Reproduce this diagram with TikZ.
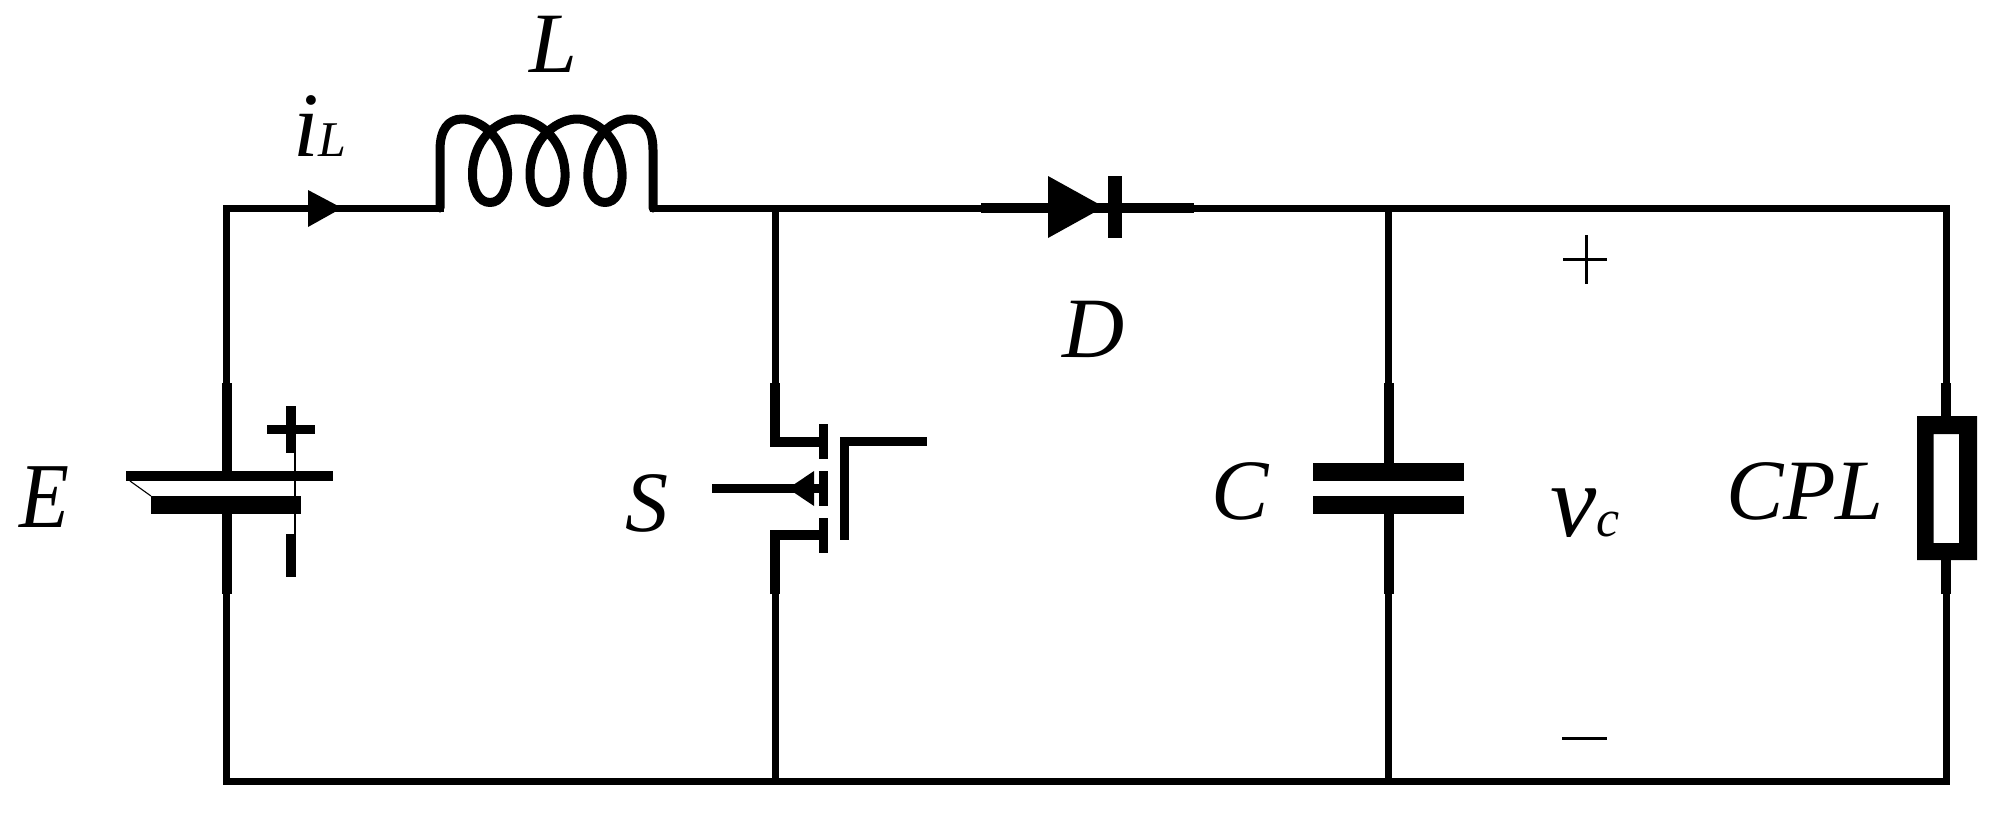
\documentclass[tikz,border=0pt]{standalone}
\usepackage{fontspec}
\setmainfont{Liberation Serif}
\newcommand{\lblfont}{\fontsize{86}{90}\selectfont\itshape}
\begin{document}
\begin{tikzpicture}[x=1pt,y=-1pt,
  wire/.style={line width=7pt,line cap=rect,line join=miter},
  lead/.style={line width=10pt,line cap=butt},
  coil/.style={line width=9pt,line join=round,line cap=round},
  hair/.style={line width=1.1pt},
  thinsign/.style={line width=3pt},
  lbl/.style={inner sep=0pt,outer sep=0pt,anchor=base west,font=\lblfont}]
\useasboundingbox (0,0) rectangle (2004,815);
\fill[white] (0,0) rectangle (2004,815);
% named junctions
\coordinate (TL) at (226.5,208);
\coordinate (BL) at (226.5,781);
\coordinate (TR) at (1946,208);
\coordinate (BR) at (1946,781);
\coordinate (LA) at (440,208);
\coordinate (LB) at (653,208);
\coordinate (ST) at (775,208);
\coordinate (SB) at (775,781);
\coordinate (CT) at (1388.5,208);
\coordinate (CB) at (1388.5,781);
\coordinate (DA) at (981,208);
\coordinate (DB) at (1194,208);
\coordinate (EU) at (226.5,383);
\coordinate (ED) at (226.5,594);
\coordinate (SU) at (775,383);
\coordinate (SD) at (775,594);
\coordinate (CU) at (1388.5,383);
\coordinate (CD) at (1388.5,594);
\coordinate (RU) at (1946,383);
\coordinate (RD) at (1946,594);
% wires
\draw[wire] (TL) -- (LA);
\draw[wire] (LB) -- (DA);
\draw[wire] (DB) -- (TR);
\draw[wire] (BL) -- (BR);
\draw[wire] (TL) -- (EU);
\draw[wire] (ED) -- (BL);
\draw[wire] (ST) -- (SU);
\draw[wire] (SD) -- (SB);
\draw[wire] (CT) -- (CU);
\draw[wire] (CD) -- (CB);
\draw[wire] (TR) -- (RU);
\draw[wire] (RD) -- (BR);
% inductor
\draw[coil] (LA) -- (440,150)
  .. controls (440,130) and (448,119) .. (462,119)
  .. controls (478,119) and (505,135) .. (507.5,172)
  .. controls (508,190) and (501,202.5) .. (490,202.5)
  .. controls (479,202.5) and (472,190) .. (472.5,172)
  .. controls (474,135) and (502,119) .. (518,119)
  .. controls (534,119) and (563,135) .. (565,172)
  .. controls (566,190) and (558,202.5) .. (547.5,202.5)
  .. controls (537,202.5) and (529.5,190) .. (530,172)
  .. controls (532,135) and (560,119) .. (577,119)
  .. controls (593,119) and (620,135) .. (622,172)
  .. controls (623,190) and (616,202.5) .. (605,202.5)
  .. controls (594,202.5) and (587,190) .. (588,172)
  .. controls (590,135) and (615,119) .. (630,119)
  .. controls (645,119) and (653,130) .. (653,150) -- (LB);
% current arrow
\fill (308,190) -- (342,208) -- (308,227) -- cycle;
% diode
\draw[lead] (DA) -- (DB);
\fill (1048,176) -- (1104,207) -- (1048,238) -- cycle;
\fill (1108,176) rectangle (1122,238);
% source
\draw[lead] (EU) -- (226.5,471);
\draw[lead] (226.5,514) -- (ED);
\fill (126,471) rectangle (333,481);
\fill (151,496) rectangle (301,514);
\draw[hair] (130,481) -- (151,496);
\draw[hair] (295,453) -- (295,534);
\fill (286,406) rectangle (296,453);
\fill (267,425) rectangle (315,434);
\fill (286,534) rectangle (296,577);
% switch
\draw[lead] (SU) -- (775,441.5) -- (819,441.5);
\draw[lead] (SD) -- (775,534.5) -- (819,534.5);
\fill (819,424) rectangle (828,459);
\fill (819,471) rectangle (828,506);
\fill (819,518) rectangle (828,553);
\fill (840,437) rectangle (849,540);
\fill (840,437) rectangle (927,446);
\fill (712,484) rectangle (819,493);
\fill (788,488.5) -- (814,471) -- (814,506) -- cycle;
% capacitor
\draw[lead] (CU) -- (1388.5,463);
\draw[lead] (1388.5,514) -- (CD);
\fill (1313,463) rectangle (1464,481);
\fill (1313,496) rectangle (1464,514);
% load
\draw[lead] (RU) -- (1946,416);
\draw[lead] (1946,560) -- (RD);
\fill[even odd rule] (1917,416) rectangle (1977,560) (1933.5,434) rectangle (1959,543);
% signs
\draw[thinsign] (1563,259.5) -- (1607,259.5);
\draw[thinsign] (1586,235) -- (1586,284);
\draw[thinsign] (1562,738) -- (1607,738);
% labels
\node[lbl,xscale=.95,yscale=1.08] (nE) at (19,527) {E};
\node[lbl] (nL) at (529,72) {L};
\node[lbl] (nD) at (1062,357) {D};
\node[lbl] (nS) at (625,531) {S};
\node[lbl] (nC) at (1211,519) {C};
\node[lbl] (nCPL) at (1726,519) {CPL};
\node[lbl] (niL) at (293,156) {\fontsize{92}{92}\selectfont i\fontsize{50}{50}\selectfont L};
\node[lbl] (nvc) at (1550,536) {\fontsize{104}{104}\selectfont v\fontsize{52}{52}\selectfont c};
\end{tikzpicture}
\end{document}
